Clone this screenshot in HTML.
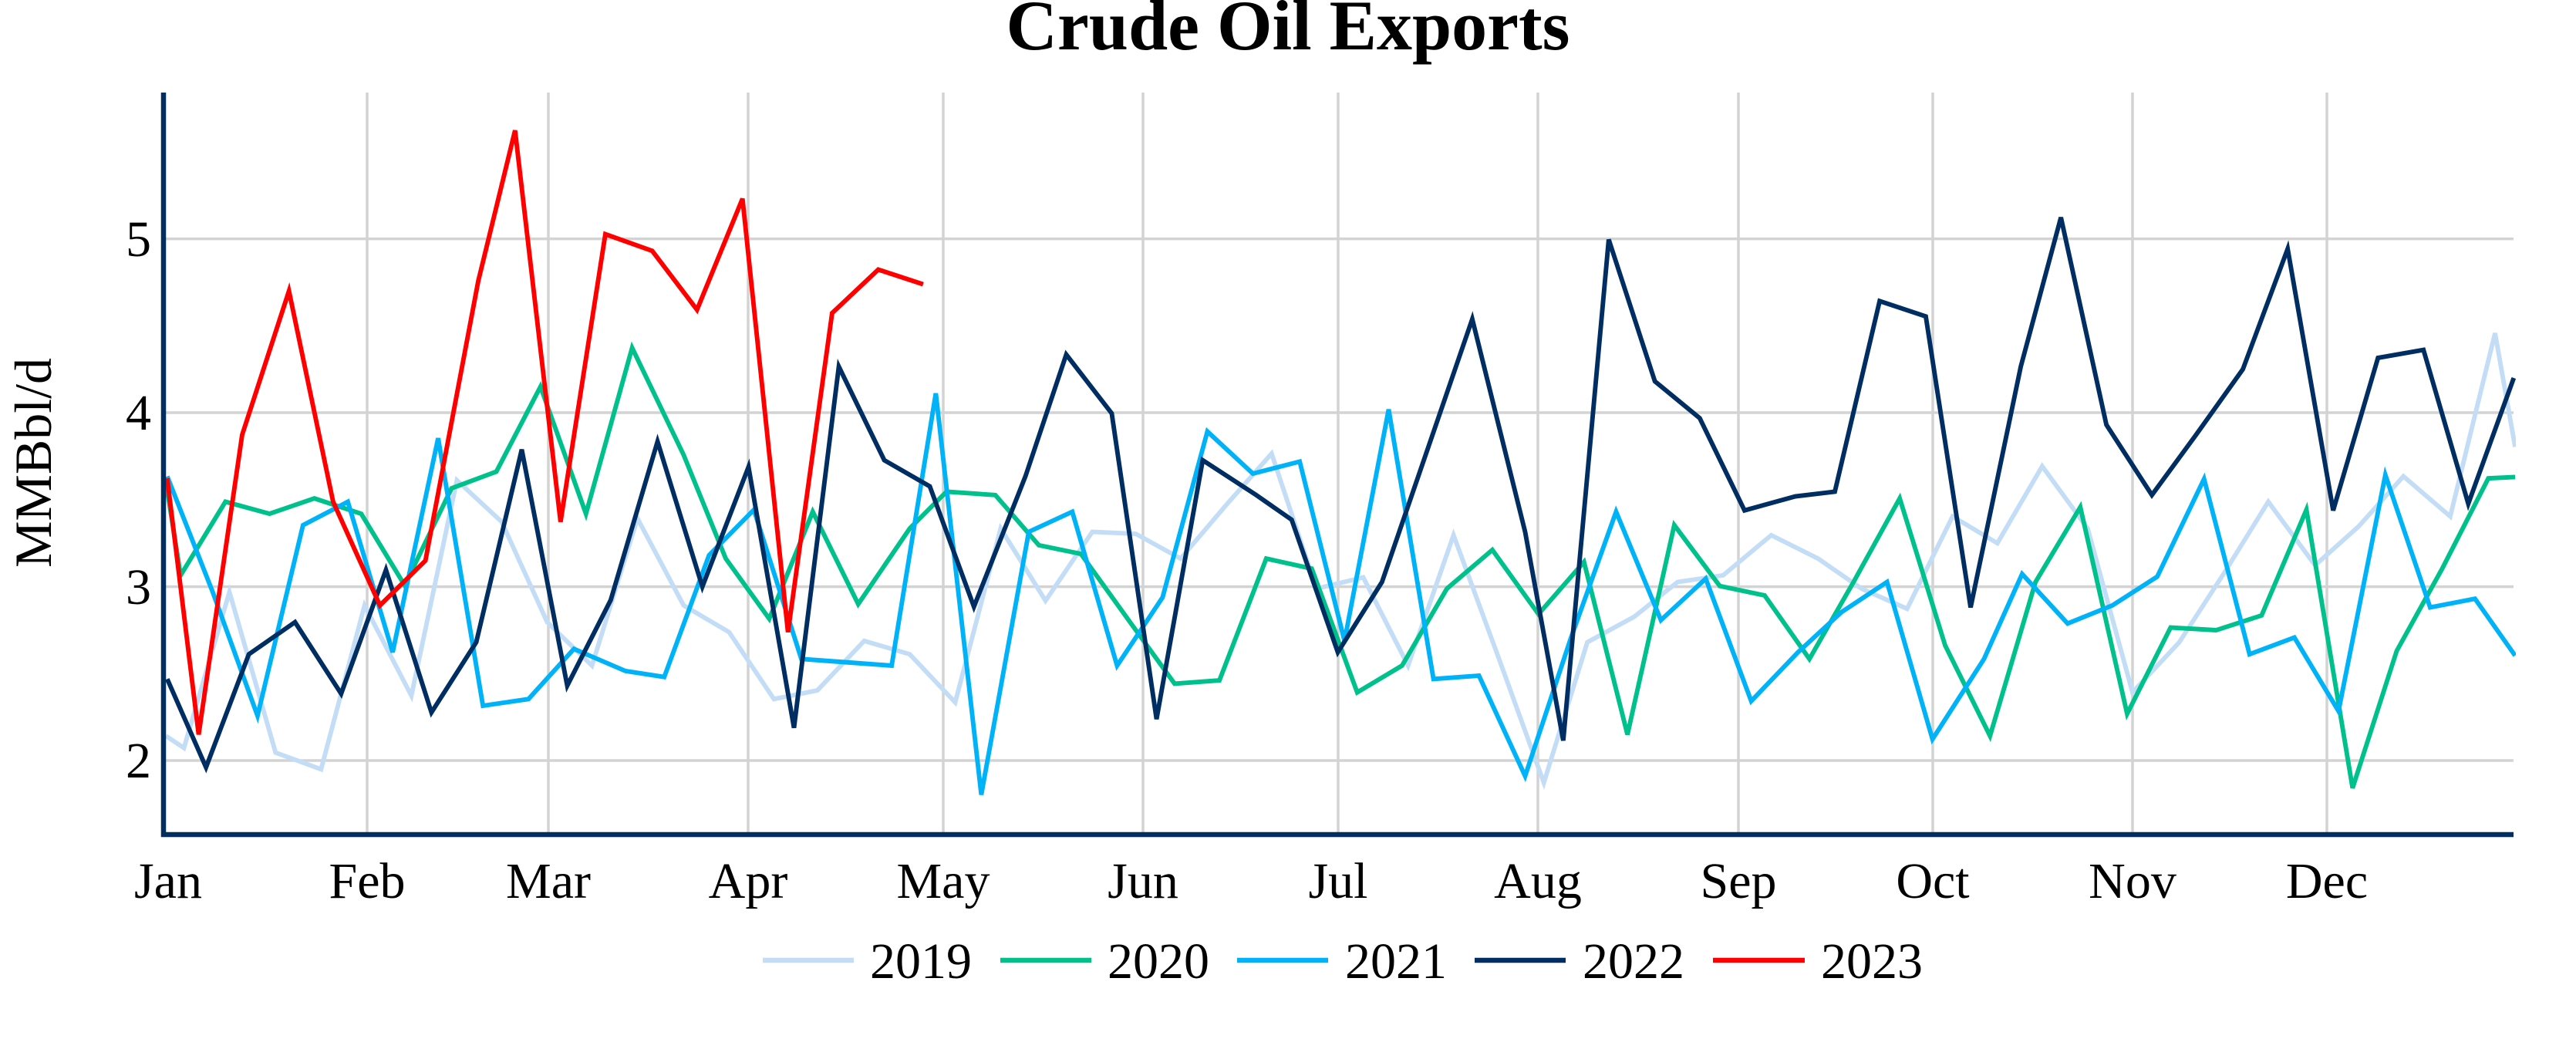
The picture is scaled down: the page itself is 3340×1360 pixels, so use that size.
<!DOCTYPE html>
<html><head><meta charset="utf-8"><style>
html,body{margin:0;padding:0;background:#fff;}
svg{display:block;}
text{font-family:"Liberation Serif",serif;fill:#000;}
</style></head><body>
<svg width="3340" height="1360" viewBox="0 0 3340 1360" xmlns="http://www.w3.org/2000/svg">
<defs><clipPath id="c"><rect x="212" y="115" width="3050" height="967"/></clipPath></defs>
<text x="1670" y="64" text-anchor="middle" font-size="92" font-weight="bold">Crude Oil Exports</text>
<g stroke="#d3d3d3" stroke-width="3.5">
<line x1="212" x2="3259" y1="309.6" y2="309.6"/><line x1="212" x2="3259" y1="535" y2="535"/>
<line x1="212" x2="3259" y1="760.6" y2="760.6"/><line x1="212" x2="3259" y1="986" y2="986"/>
<line x1="476" x2="476" y1="120" y2="1082"/><line x1="711" x2="711" y1="120" y2="1082"/>
<line x1="970" x2="970" y1="120" y2="1082"/><line x1="1223" x2="1223" y1="120" y2="1082"/>
<line x1="1482" x2="1482" y1="120" y2="1082"/><line x1="1735" x2="1735" y1="120" y2="1082"/>
<line x1="1994" x2="1994" y1="120" y2="1082"/><line x1="2254" x2="2254" y1="120" y2="1082"/>
<line x1="2506" x2="2506" y1="120" y2="1082"/><line x1="2765" x2="2765" y1="120" y2="1082"/>
<line x1="3017" x2="3017" y1="120" y2="1082"/>
</g>
<g clip-path="url(#c)">
<g transform="scale(0.8673)" fill="none" stroke-width="6.8" stroke-linejoin="miter">
<polyline stroke="#c4ddf7" points="248,1100 275,1118 343,885 412,1125 480,1150 545,905 615,1040 683,718 750,780 818,930 885,995 953,775 1022,905 1090,945 1157,1045 1222,1032 1292,958 1360,978 1428,1050 1496,790 1563,898 1633,795 1698,798 1765,835 1833,755 1901,678 1968,880 2038,863 2105,995 2173,800 2241,985 2308,1170 2373,960 2443,922 2508,870 2576,860 2648,800 2718,835 2783,880 2851,910 2919,772 2986,812 3053,697 3121,790 3188,1035 3258,960 3326,855 3391,750 3461,845 3526,787 3593,712 3663,772 3730,498 3760,668"/>
<polyline stroke="#00c08b" points="248,720 270,860 337,750 403,768 470,745 540,768 605,875 675,730 742,705 808,578 876,768 945,520 1022,680 1085,835 1150,925 1215,765 1283,903 1360,790 1415,735 1488,740 1553,815 1616,828 1693,935 1756,1022 1823,1017 1893,835 1961,850 2029,1035 2096,995 2163,880 2231,822 2300,918 2368,840 2433,1098 2503,785 2571,876 2638,890 2705,985 2771,870 2840,745 2908,965 2975,1100 3043,870 3110,758 3180,1067 3245,938 3313,942 3381,920 3448,762 3517,1178 3583,973 3651,850 3720,715 3760,713"/>
<polyline stroke="#00b2f8" points="250,712 318,885 385,1070 453,785 520,750 587,975 655,655 722,1055 790,1045 858,970 935,1003 993,1012 1060,830 1127,762 1198,985 1265,990 1333,995 1399,588 1467,1188 1538,795 1603,765 1670,995 1738,893 1805,645 1873,708 1943,690 2010,958 2076,612 2143,1015 2211,1010 2280,1160 2348,955 2416,765 2483,927 2550,865 2618,1048 2688,975 2753,915 2821,870 2889,1105 2966,985 3023,858 3091,932 3158,905 3225,862 3295,716 3363,978 3430,953 3496,1063 3566,710 3633,908 3700,895 3760,980"/>
<polyline stroke="#002d62" points="250,1015 308,1147 372,978 441,930 510,1037 577,852 645,1065 712,960 780,672 848,1025 913,897 983,660 1050,877 1119,698 1187,1088 1254,548 1322,688 1390,727 1456,907 1533,712 1594,530 1662,618 1729,1075 1798,688 1878,740 1931,777 2000,975 2066,870 2133,675 2201,477 2280,795 2337,1107 2405,358 2474,570 2541,625 2608,763 2684,742 2743,735 2810,450 2879,473 2946,908 3021,548 3081,325 3149,635 3217,740 3283,650 3353,552 3420,372 3488,763 3555,535 3623,523 3690,753 3758,565"/>
<polyline stroke="#ff0000" points="250,715 297,1098 362,650 432,435 498,750 568,905 636,838 715,420 770,195 838,780 905,350 975,375 1042,463 1110,297 1178,945 1244,468 1313,403 1380,425"/>
</g></g>
<g stroke="#002f5f" stroke-width="6.5">
<line x1="212" x2="212" y1="120" y2="1085"/><line x1="209" x2="3259" y1="1082" y2="1082"/>
</g>
<g font-size="66" text-anchor="end">
<text x="196" y="332">5</text><text x="196" y="557">4</text><text x="196" y="783">3</text><text x="196" y="1008">2</text>
</g>
<text transform="translate(66,600) rotate(-90)" font-size="68" text-anchor="middle">MMBbl/d</text>
<g font-size="66" text-anchor="middle">
<text x="218" y="1164">Jan</text><text x="476" y="1164">Feb</text><text x="711" y="1164">Mar</text>
<text x="970" y="1164">Apr</text><text x="1223" y="1164">May</text><text x="1482" y="1164">Jun</text>
<text x="1735" y="1164">Jul</text><text x="1994" y="1164">Aug</text><text x="2254" y="1164">Sep</text>
<text x="2506" y="1164">Oct</text><text x="2765" y="1164">Nov</text><text x="3017" y="1164">Dec</text>
</g>
<g stroke-width="6.5">
<line x1="989" x2="1107" y1="1245" y2="1245" stroke="#c4ddf7"/>
<line x1="1297" x2="1415" y1="1245" y2="1245" stroke="#00c08b"/>
<line x1="1604" x2="1722" y1="1245" y2="1245" stroke="#00b2f8"/>
<line x1="1912" x2="2030" y1="1245" y2="1245" stroke="#002d62"/>
<line x1="2221" x2="2340" y1="1245" y2="1245" stroke="#ff0000"/>
</g>
<g font-size="66">
<text x="1128" y="1268">2019</text><text x="1436" y="1268">2020</text><text x="1744" y="1268">2021</text>
<text x="2052" y="1268">2022</text><text x="2361" y="1268">2023</text>
</g>
</svg>
</body></html>
